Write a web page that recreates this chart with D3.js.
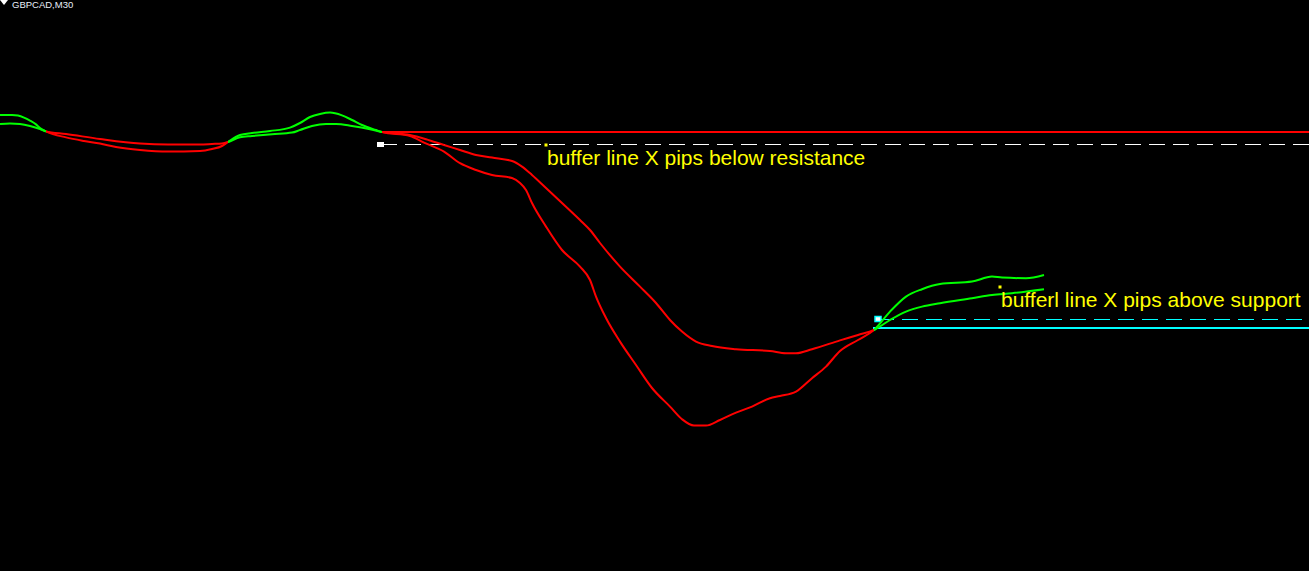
<!DOCTYPE html>
<html>
<head>
<meta charset="utf-8">
<script src="https://cdn.jsdelivr.net/npm/d3@7"></script>
<style>
  body { margin: 0; background: #000; overflow: hidden; }
  text { font-family: "Liberation Sans", Arial, sans-serif; }
</style>
</head>
<body>
<div id="chart"></div>
<script>
// GBPCAD M30 - two moving averages, coloured by crossover, with S/R levels

// fast MA (bar index, price)
let fastBars = [0, 6, 9, 12, 15, 18, 20, 23,
  33, 42, 50, 58, 70, 84, 100, 106, 111, 114,
  120, 126, 135, 145, 150, 155, 160, 165, 171, 176, 181, 188, 191,
  205, 212, 222, 230, 238, 246, 256, 260, 263, 266, 273, 281, 290, 295, 298, 303,
  310, 318, 326, 335, 341, 347, 353, 360, 368, 376, 385, 390, 398, 406, 413, 420, 429, 437,
  445, 453, 461, 470, 486, 496, 501, 513, 522];
let fastPrices = [1.72425, 1.72425, 1.72422, 1.72412, 1.72397, 1.72378, 1.72360, 1.72343,
  1.72313, 1.72295, 1.72282, 1.72265, 1.72250, 1.72242, 1.72245, 1.72255, 1.72270, 1.72290,
  1.72325, 1.72335, 1.72345, 1.72362, 1.72385, 1.72415, 1.72430, 1.72437, 1.72423, 1.72400, 1.72375, 1.72350, 1.72340,
  1.72320, 1.72287, 1.72242, 1.72184, 1.72150, 1.72125, 1.72110, 1.72085, 1.72050, 1.71985, 1.71867, 1.71750, 1.71667, 1.71600, 1.71517, 1.71410,
  1.71292, 1.71175, 1.71060, 1.70967, 1.70904, 1.70872, 1.70872, 1.70900, 1.70937, 1.70967, 1.71009, 1.71020, 1.71042, 1.71109, 1.71167, 1.71245, 1.71300, 1.71350,
  1.71442, 1.71517, 1.71554, 1.71580, 1.71592, 1.71617, 1.71612, 1.71609, 1.71625];

// slow MA (bar index, price)
let slowBars = [0, 5, 10, 15, 20, 23,
  33, 50, 70, 84, 100, 106, 111, 114,
  120, 126, 136, 146, 150, 156, 163, 168, 176, 185, 191,
  205, 213, 222, 230, 238, 246, 256, 261, 266, 273, 281, 290, 295, 300,
  310, 320, 328, 335, 341, 348, 356, 368, 385, 393, 398, 406, 420, 429, 437,
  445, 453, 461, 470, 486, 496, 506, 522];
let slowPrices = [1.72380, 1.72383, 1.72380, 1.72370, 1.72355, 1.72343,
  1.72330, 1.72305, 1.72282, 1.72277, 1.72277, 1.72280, 1.72283, 1.72290,
  1.72314, 1.72320, 1.72329, 1.72337, 1.72350, 1.72370, 1.72380, 1.72380, 1.72370, 1.72354, 1.72340,
  1.72325, 1.72304, 1.72275, 1.72250, 1.72225, 1.72212, 1.72195, 1.72167, 1.72125, 1.72060, 1.71985, 1.71900, 1.71850, 1.71785,
  1.71667, 1.71567, 1.71485, 1.71400, 1.71342, 1.71292, 1.71270, 1.71254, 1.71245, 1.71234, 1.71234, 1.71254, 1.71298, 1.71325, 1.71350,
  1.71400, 1.71442, 1.71467, 1.71484, 1.71509, 1.71525, 1.71534, 1.71554];

// horizontal levels: resistance, resistance buffer, support, support buffer
let levelPrices = [1.72342, 1.72278, 1.71358, 1.71404];
let levelStartBars = [191.5, 190.5, 436.5, 439];

// text labels
let labelTexts = ["buffer line X pips below resistance", "bufferl line X pips above support"];
let labelBars = [273, 500];
let labelPrices = [1.72275, 1.71565];

let symbolTitle = "GBPCAD,M30";

// Set the size
let svgWidth = 1309;
let svgHeight = 571;

let svg = d3.select("#chart")
    .append("svg")
    .attr("width", svgWidth)
    .attr("height", svgHeight)
    .style("display", "block")
    .style("background", "#000");

// 2 px per bar, 0.5 pip per px
let xScale = d3.scaleLinear()
    .domain([0, svgWidth / 2])
    .range([0, svgWidth]);

let yScale = d3.scaleLinear()
    .domain([1.73, 1.73 - svgHeight * 0.00005])
    .range([0, svgHeight]);

// interpolate an MA value between two bars
function priceAt(bars, prices, bar) {
    let i = d3.bisectLeft(bars, bar);
    if (i <= 0) return prices[0];
    if (i >= bars.length) return prices[prices.length - 1];
    let t = (bar - bars[i - 1]) / (bars[i] - bars[i - 1]);
    return prices[i - 1] + t * (prices[i] - prices[i - 1]);
}

// crossovers: bars where both MAs have the same value
let crossBars = fastBars.filter((b, i) => {
    let j = slowBars.indexOf(b);
    return j >= 0 && slowPrices[j] === fastPrices[i];
});

let bounds = [0].concat(crossBars, [svgWidth / 2]);
let lastBar = d3.max(fastBars);
let regions = d3.pairs(bounds).map(([b0, b1]) => {
    let mid = (b0 + Math.min(b1, lastBar)) / 2;
    let up = priceAt(fastBars, fastPrices, mid) > priceAt(slowBars, slowPrices, mid);
    return { b0: b0, b1: b1, up: up };
});

let defs = svg.append("defs");
["up", "down"].forEach(dir => {
    defs.append("clipPath")
        .attr("id", "clip-" + dir)
        .selectAll("rect")
        .data(regions.filter(r => r.up === (dir === "up")))
        .join("rect")
        .attr("x", d => xScale(d.b0))
        .attr("y", 0)
        .attr("width", d => xScale(d.b1) - xScale(d.b0))
        .attr("height", svgHeight);
});

// levels
let levelColors = ["#ff0000", "#ffffff", "#00ffff", "#00ffff"];
let levelWidths = [2, 1, 2, 1];
let levelDash = [null, "16,8", null, "16,8"];

let levelY = (d, i) => Math.round(yScale(d)) + (levelWidths[i] === 1 ? 0.5 : 0);

svg.append("g")
    .selectAll("line")
    .data(levelPrices)
    .join("line")
    .attr("x1", (d, i) => xScale(levelStartBars[i]))
    .attr("x2", svgWidth)
    .attr("y1", levelY)
    .attr("y2", levelY)
    .attr("stroke", (d, i) => levelColors[i])
    .attr("stroke-width", (d, i) => levelWidths[i])
    .attr("stroke-dasharray", (d, i) => levelDash[i]);

// anchor squares of the dashed buffer lines
svg.append("rect")
    .attr("x", xScale(levelStartBars[1]) - 4)
    .attr("y", Math.round(yScale(levelPrices[1])) - 2)
    .attr("width", 7)
    .attr("height", 5)
    .attr("fill", "#ffffff");

svg.append("rect")
    .attr("x", xScale(levelStartBars[3]) - 3)
    .attr("y", Math.round(yScale(levelPrices[3])) - 2.5)
    .attr("width", 6)
    .attr("height", 5)
    .attr("fill", "#ffffff")
    .attr("stroke", "#00ffff")
    .attr("stroke-width", 1.5);

// moving averages
let line = d3.line()
    .x(d => xScale(d[0]))
    .y(d => yScale(d[1]))
    .curve(d3.curveMonotoneX);

let fastData = d3.zip(fastBars, fastPrices);
let slowData = d3.zip(slowBars, slowPrices);

[["up", "#00ff00"], ["down", "#ff0000"]].forEach(([dir, colour]) => {
    let g = svg.append("g").attr("clip-path", `url(#clip-${dir})`);
    [slowData, fastData].forEach(data => {
        g.append("path")
            .datum(data)
            .attr("d", line)
            .attr("fill", "none")
            .attr("stroke", colour)
            .attr("stroke-width", 2);
    });
});

// labels with their anchor points
labelTexts.forEach((t, i) => {
    let x = xScale(labelBars[i]);
    let y = yScale(labelPrices[i]);
    svg.append("rect")
        .attr("x", x - 1.5)
        .attr("y", y - 1.5)
        .attr("width", 3)
        .attr("height", 3)
        .attr("fill", "#ffff00");
    svg.append("text")
        .attr("x", x + 1)
        .attr("y", y + 20)
        .attr("fill", "#ffff00")
        .style("font-size", "21px")
        .text(t);
});

// symbol title in top-left corner
svg.append("path")
    .attr("d", "M0,0 L8,0 L4,5 Z")
    .attr("fill", "#ffffff");

svg.append("text")
    .attr("x", 12)
    .attr("y", 8)
    .attr("fill", "#e8eef8")
    .style("font-size", "9.5px")
    .text(symbolTitle);
</script>
</body>
</html>
